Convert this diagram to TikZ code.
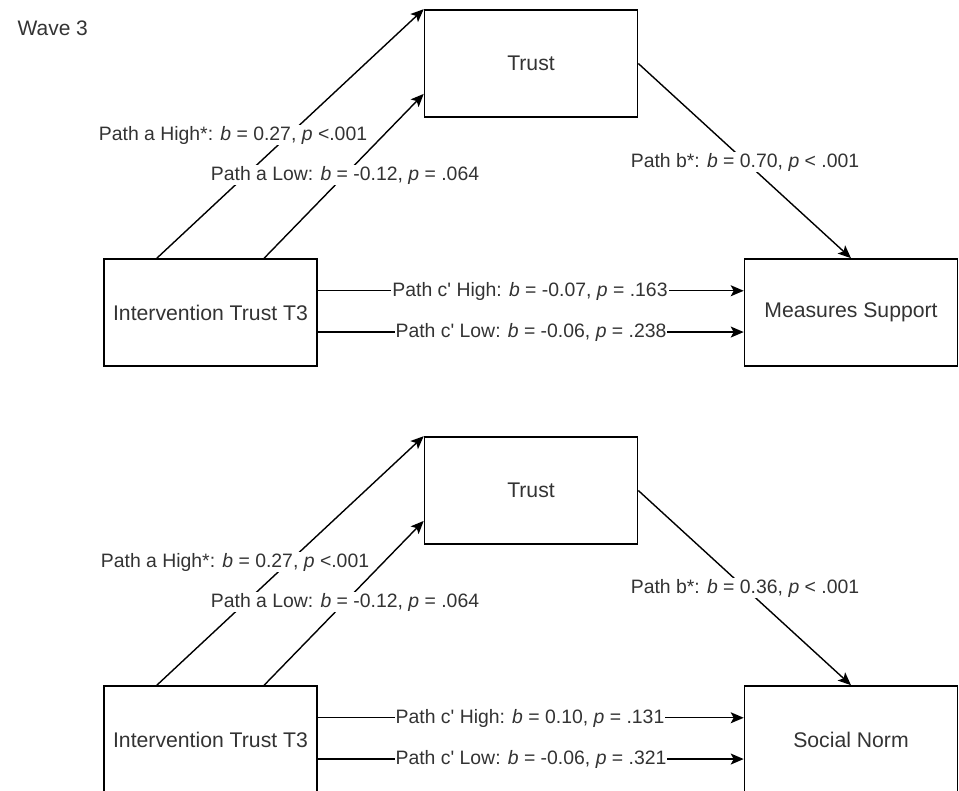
\documentclass[tikz,border=0pt]{standalone}
\usepackage{fontspec}
\setmainfont{Liberation Sans}[Ligatures=TeXOff]
\usetikzlibrary{arrows.meta,calc}
\begin{document}
\begin{tikzpicture}[x=1pt,y=-1pt,
  box/.style={draw=black,line width=1.6pt,minimum width=213pt,minimum height=107pt,inner sep=0pt,font=\fontsize{21.2}{25}\selectfont,text=black!80},
  lbl/.style={fill=white,inner sep=1pt,font=\fontsize{19.4}{23}\selectfont,text=black!80},
  conn/.style={line width=1.4pt,draw=black},
  arr/.style={conn,-{Stealth[length=13pt,width=11pt,inset=3pt]}}]
\useasboundingbox (0,0) rectangle (959,791);
\clip (0,0) rectangle (959,791);
\node[anchor=west,font=\fontsize{21}{25}\selectfont,text=black!80] (wave) at (14,28) {Wave 3};
% ---------- top panel
\node[box] (trustA) at (531,63.5) {Trust};
\node[box] (intA) at (210.5,312.5) {Intervention Trust T3};
\node[box] (msA) at (851,312.5) {Measures Support};
\coordinate (aHiA) at ($(intA.north west)!0.25!(intA.north east)$);
\coordinate (aLoA) at ($(intA.north west)!0.75!(intA.north east)$);
\coordinate (aLoEndA) at ($(trustA.north west)!0.78!(trustA.south west)$);
\coordinate (cHiS) at ($(intA.north east)!0.3!(intA.south east)$);
\coordinate (cLoS) at ($(intA.north east)!0.68!(intA.south east)$);
\coordinate (cHiE) at ($(msA.north west)!0.3!(msA.south west)$);
\coordinate (cLoE) at ($(msA.north west)!0.68!(msA.south west)$);
\draw[arr] (aHiA) -- (trustA.north west);
\draw[arr] (aLoA) -- (aLoEndA);
\draw[arr] (trustA.east) -- (msA.north);
\draw[arr] (cHiS) -- (cHiE);
\draw[arr] (cLoS) -- (cLoE);
\node[lbl] (laHiA) at (233,135) {Path a High*: \textit{b} = 0.27, \textit{p} <.001};
\node[lbl] (laLoA) at (345,175) {Path a Low: \textit{b} = -0.12, \textit{p} = .064};
\node[lbl] (lbA) at (745,162) {Path b*: \textit{b} = 0.70, \textit{p} < .001};
\node[lbl] (lcHiA) at (530,291) {Path c' High: \textit{b} = -0.07, \textit{p} = .163};
\node[lbl] (lcLoA) at (531,332) {Path c' Low: \textit{b} = -0.06, \textit{p} = .238};
% ---------- bottom panel
\node[box] (trustB) at (531,490.5) {Trust};
\node[box] (intB) at (210.5,739.5) {Intervention Trust T3};
\node[box] (snB) at (851,739.5) {Social Norm};
\coordinate (aHiB) at ($(intB.north west)!0.25!(intB.north east)$);
\coordinate (aLoB) at ($(intB.north west)!0.75!(intB.north east)$);
\coordinate (aLoEndB) at ($(trustB.north west)!0.78!(trustB.south west)$);
\coordinate (cHiSB) at ($(intB.north east)!0.3!(intB.south east)$);
\coordinate (cLoSB) at ($(intB.north east)!0.68!(intB.south east)$);
\coordinate (cHiEB) at ($(snB.north west)!0.3!(snB.south west)$);
\coordinate (cLoEB) at ($(snB.north west)!0.68!(snB.south west)$);
\draw[arr] (aHiB) -- (trustB.north west);
\draw[arr] (aLoB) -- (aLoEndB);
\draw[arr] (trustB.east) -- (snB.north);
\draw[arr] (cHiSB) -- (cHiEB);
\draw[arr] (cLoSB) -- (cLoEB);
\node[lbl] (laHiB) at (235,562) {Path a High*: \textit{b} = 0.27, \textit{p} <.001};
\node[lbl] (laLoB) at (345,602) {Path a Low: \textit{b} = -0.12, \textit{p} = .064};
\node[lbl] (lbB) at (745,588) {Path b*: \textit{b} = 0.36, \textit{p} < .001};
\node[lbl] (lcHiB) at (530,718) {Path c' High: \textit{b} = 0.10, \textit{p} = .131};
\node[lbl] (lcLoB) at (531,759) {Path c' Low: \textit{b} = -0.06, \textit{p} = .321};
\end{tikzpicture}
\end{document}
